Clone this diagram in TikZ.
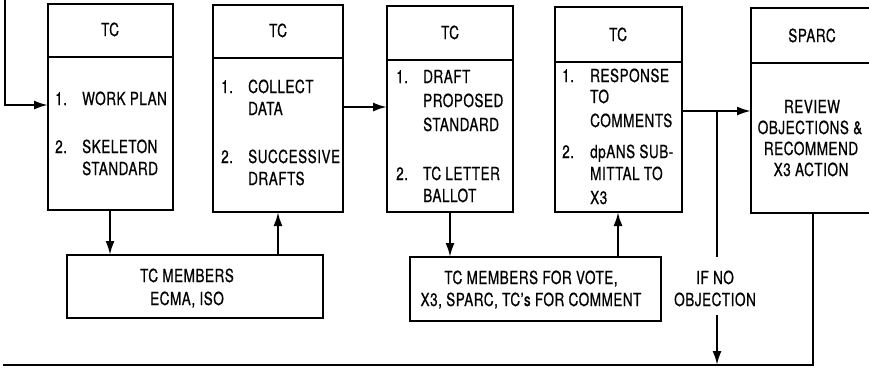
\documentclass[tikz,border=0pt]{standalone}
\usepackage{fontspec}
\setmainfont{TeX Gyre Heros}[FakeStretch=0.75,LetterSpace=3,FakeBold=0.7]
\usetikzlibrary{arrows.meta}
\begin{document}
\begin{tikzpicture}[x=1pt,y=-1pt,
  box/.style={draw, line width=1.8pt, inner sep=0pt, outer sep=0pt},
  ln/.style={line width=2.2pt},
  arr/.style={line width=2.2pt, -{Latex[length=14pt,width=9pt]}},
  txt/.style={anchor=base west, inner sep=0pt, font=\fontsize{18}{22}\selectfont},
  ctr/.style={anchor=base, inner sep=0pt, font=\fontsize{18}{22}\selectfont}]
\useasboundingbox (0,0) rectangle (869,368);
\fill[white] (0,0) rectangle (869,368);
\clip (0,0) rectangle (869,368);

% upper boxes
\node[box, minimum width=125pt, minimum height=206pt, anchor=north west] (b1) at (48,4) {};
\node[box, minimum width=130pt, minimum height=207pt, anchor=north west] (b2) at (213,5) {};
\node[box, minimum width=126pt, minimum height=206pt, anchor=north west] (b3) at (387,6) {};
\node[box, minimum width=127pt, minimum height=205pt, anchor=north west] (b4) at (555,7) {};
\node[box, minimum width=140pt, minimum height=205pt, anchor=north west] (b5) at (751,8) {};

% header dividers
\draw[line width=1.8pt] (b1.west |- 0,57) -- (b1.east |- 0,57);
\draw[line width=1.8pt] (b2.west |- 0,58) -- (b2.east |- 0,58);
\draw[line width=1.8pt] (b3.west |- 0,60) -- (b3.east |- 0,60);
\draw[line width=1.8pt] (b4.west |- 0,62) -- (b4.east |- 0,62);
\draw[line width=1.8pt] (b5.west |- 0,63) -- (b5.east |- 0,63);

% headers
\node[ctr] (h1) at (110,36) {TC};
\node[ctr] (h2) at (278,37) {TC};
\node[ctr] (h3) at (450,39) {TC};
\node[ctr] (h4) at (618,41) {TC};
\node[ctr] (h5) at (812,42) {SPARC};

% box 1
\node[txt] (n1a) at (55,105) {1.};
\node[txt] (t1a) at (82,105) {WORK PLAN};
\node[txt] (n1b) at (55,153) {2.};
\node[txt] (t1b) at (82,153) {SKELETON};
\node[txt] (t1c) at (82,175) {STANDARD};

% box 2
\node[txt] (n2a) at (221,93) {1.};
\node[txt] (t2a) at (248,93) {COLLECT};
\node[txt] (t2b) at (248,115) {DATA};
\node[txt] (n2b) at (221,163) {2.};
\node[txt] (t2c) at (248,163) {SUCCESSIVE};
\node[txt] (t2d) at (248,185) {DRAFTS};

% box 3
\node[txt] (n3a) at (396,83) {1.};
\node[txt] (t3a) at (423,83) {DRAFT};
\node[txt] (t3b) at (423,107) {PROPOSED};
\node[txt] (t3c) at (423,131) {STANDARD};
\node[txt] (n3b) at (396,180) {2.};
\node[txt] (t3d) at (423,180) {TC LETTER};
\node[txt] (t3e) at (423,202) {BALLOT};

% box 4
\node[txt] (n4a) at (562,82) {1.};
\node[txt] (t4a) at (590,82) {RESPONSE};
\node[txt] (t4b) at (590,103) {TO};
\node[txt] (t4c) at (590,127) {COMMENTS};
\node[txt] (n4b) at (562,158) {2.};
\node[txt] (t4d) at (590,158) {dpANS SUB-};
\node[txt] (t4e) at (590,180) {MITTAL TO};
\node[txt] (t4f) at (590,204) {X3};

% SPARC box
\node[ctr] (t5a) at (812,113) {REVIEW};
\node[ctr] (t5b) at (810,134) {OBJECTIONS \&};
\node[ctr] (t5c) at (811,155) {RECOMMEND};
\node[ctr] (t5d) at (811,176) {X3 ACTION};

% lower boxes
\node[box, minimum width=256pt, minimum height=63pt, anchor=north west] (l1) at (67,255) {};
\node[ctr] (l1a) at (187,282) {TC MEMBERS};
\node[ctr] (l1b) at (187,305) {ECMA, ISO};
\node[box, minimum width=251pt, minimum height=64pt, anchor=north west] (l2) at (410,257) {};
\node[ctr] (l2a) at (531,284) {TC MEMBERS FOR VOTE,};
\node[ctr] (l2b) at (531,306) {X3, SPARC, TC's FOR COMMENT};

% if no objection
\node[ctr] (q1) at (715,284) {IF NO};
\node[ctr] (q2) at (715,306) {OBJECTION};

% connectors
\coordinate (top) at (5,-3);
\coordinate (lc) at (5,105);
\draw[arr] (top) -- (lc) -- (lc -| b1.west);
\draw[arr] (b2.east |- 0,107) -- (b3.west |- 0,107);
\coordinate (j) at (717,111);
\draw[arr] (b4.east |- j) -- (b5.west |- j);
\coordinate (qa) at (717,257);
\coordinate (qb) at (717,315);
\coordinate (bl) at (717,365);
\draw[ln] (j) -- (qa);
\draw[arr] (qb) -- (bl);
\coordinate (sp) at (813,365);
\coordinate (le) at (3,365);
\draw[ln] (b5.south -| sp) -- (sp) -- (le);
\draw[arr] (110,0 |- b1.south) -- (110,0 |- l1.north);
\draw[arr] (278,0 |- l1.north) -- (278,0 |- b2.south);
\draw[arr] (450,0 |- b3.south) -- (450,0 |- l2.north);
\draw[arr] (618,0 |- l2.north) -- (618,0 |- b4.south);
\end{tikzpicture}
\end{document}
